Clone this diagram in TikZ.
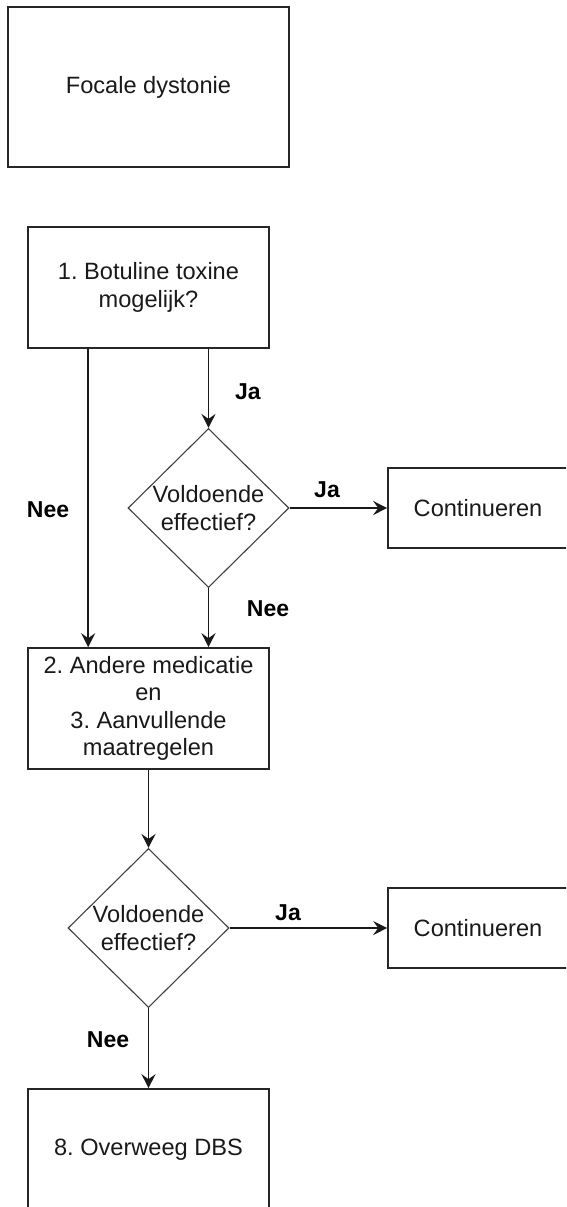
\documentclass[tikz,border=0pt]{standalone}
\usepackage{fontspec}
\setmainfont{Liberation Sans}
\frenchspacing
\usetikzlibrary{shapes.geometric,arrows.meta}

% question text inside the diamonds (may stick out over the edge)
\newcommand{\voldoende}{\makebox[0pt]{\parbox{150pt}{\centering Voldoende\\effectief?}}}

\tikzset{
    every node/.style={font=\fontsize{23.6}{27.5}\selectfont, text=black!90},
    box/.style={draw=black!85, line width=1.6pt, minimum width=241pt, minimum height=121pt, align=center, inner sep=0pt},
    endbox/.style={box, minimum width=180pt, minimum height=80pt},
    decision/.style={diamond, aspect=1, draw=black!75, line width=1.1pt, minimum width=161pt, minimum height=159pt, inner sep=0pt},
    conn/.style={line width=1.6pt, draw=black!90, -{Stealth[length=14pt, width=14pt, inset=5pt]}},
    lbl/.style={font=\fontsize{23}{27}\selectfont\bfseries, text=black, inner sep=0pt}
}

\begin{document}
\begin{tikzpicture}[x=1pt, y=-1pt]
    \useasboundingbox (0,0) rectangle (566,1207);
    \clip (0,0) rectangle (566,1207);

    % Boxes
    \node[box, minimum width=281pt, minimum height=160pt] (focal) at (148.5,87) {Focale dystonie};
    \node[box] (botox) at (148.5,287.5) {1. Botuline toxine\\mogelijk?};
    \node[box] (medic) at (148.5,708.5) {2. Andere medicatie\\en\\3. Aanvullende\\maatregelen};
    \node[box] (dbs) at (148.5,1149.5) {8. Overweeg DBS};

    % Decisions
    \node[decision] (check1) at (208.5,508) {\voldoende};
    \node[decision] (check2) at (148.5,928) {\voldoende};

    % Outcomes
    \node[endbox] (cont1) at (478,508) {Continueren};
    \node[endbox] (cont2) at (478,928) {Continueren};

    % Connectors
    \draw[conn] ([xshift=61pt]botox.south west) -- ([xshift=61pt]medic.north west);
    \draw[conn] (check1.north |- botox.south) -- (check1.north);
    \draw[conn] (check1.east) -- (cont1.west);
    \draw[conn] (check1.south) -- (check1.south |- medic.north);
    \draw[conn] (medic.south) -- (check2.north);
    \draw[conn] (check2.east) -- (cont2.west);
    \draw[conn] (check2.south) -- (dbs.north);

    % Labels
    \node[lbl] (ja1) at (248,392) {Ja};
    \node[lbl] (nee1) at (48,510) {Nee};
    \node[lbl] (ja2) at (327,490) {Ja};
    \node[lbl] (nee2) at (268,609) {Nee};
    \node[lbl] (ja3) at (288,913) {Ja};
    \node[lbl] (nee3) at (108,1040) {Nee};
\end{tikzpicture}
\end{document}
